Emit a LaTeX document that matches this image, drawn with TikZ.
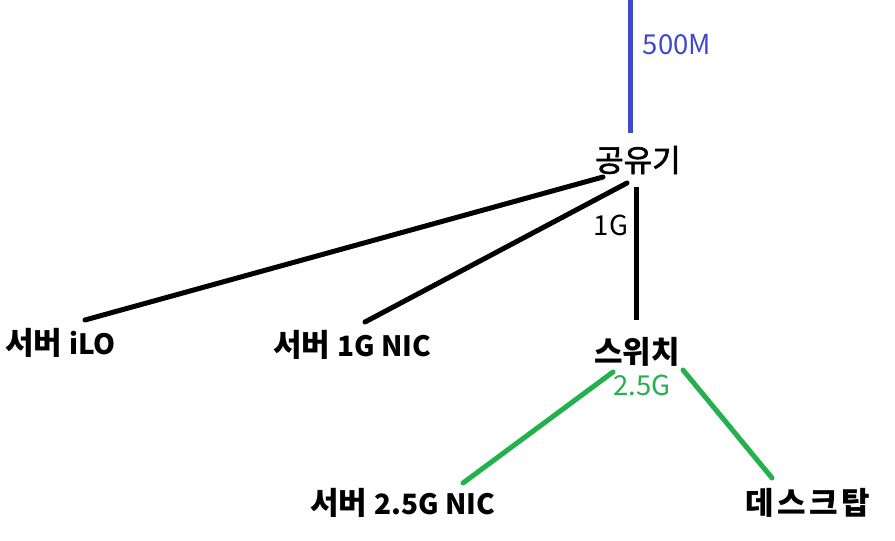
\documentclass[tikz,border=0pt]{standalone}
\usepackage{fontspec}
\newfontfamily\cjk{Noto Sans CJK KR}
\newfontfamily\cjkfb{Noto Sans CJK KR}[FakeBold=2]
\newfontfamily\cjkwide{Noto Sans CJK KR}[LetterSpace=12]
\definecolor{wanblue}{RGB}{64,72,204}
\definecolor{lgreen}{RGB}{34,177,76}
\newcommand{\latn}[1]{{\fontsize{28}{30}\selectfont #1}}
\begin{document}
\begin{tikzpicture}[x=1pt,y=-1pt,
  lbl/.style={inner sep=0pt, font=\cjk},
  big/.style={lbl, font=\cjk\bfseries\fontsize{31}{34}\selectfont},
  speed/.style={lbl, font=\cjk\fontsize{27.5}{30}\selectfont},
  wire/.style={line width=5pt, line cap=round},
  ]
\useasboundingbox (0,0) rectangle (895,541);
\node[lbl, font=\cjkfb\fontsize{31}{34}\selectfont] (router) at (638,160) {공유기};
\node[big, anchor=west] (ilo) at (5,343) {서버 \latn{iLO}};
\node[big, anchor=west] (nic1) at (273,345) {서버 \latn{1G NIC}};
\node[big] (switch) at (637,352) {스위치};
\node[big, anchor=west] (nic25) at (310,503) {서버 \latn{2.5G NIC}};
\node[big, anchor=west, font=\cjkwide\bfseries\fontsize{31}{34}\selectfont] (desk) at (745,503) {데스크탑};
\coordinate (wan) at (630,0);
\draw[wire, wanblue, line cap=butt] (wan) -- ([shift={(-8,-27)}]router.center);
\draw[wire] ([shift={(-35,17)}]router.center) -- ([shift={(80,-23)}]ilo.west);
\draw[wire] ([shift={(-11,23)}]router.center) -- ([shift={(92,-23)}]nic1.west);
\draw[wire, line cap=butt] ([shift={(-2,27)}]router.center) -- ([shift={(-1,-32)}]switch.center);
\draw[wire, lgreen] ([shift={(-24,20)}]switch.center) -- ([shift={(153,-20)}]nic25.west);
\draw[wire, lgreen] ([shift={(46,18)}]switch.center) -- ([shift={(27,-25)}]desk.west);
\node[speed, text=wanblue] (l500) at (677,45) {500M};
\node[speed] (l1g) at (611,225) {1G};
\node[speed, text=lgreen] (l25) at (642,385) {2.5G};
\end{tikzpicture}
\end{document}
